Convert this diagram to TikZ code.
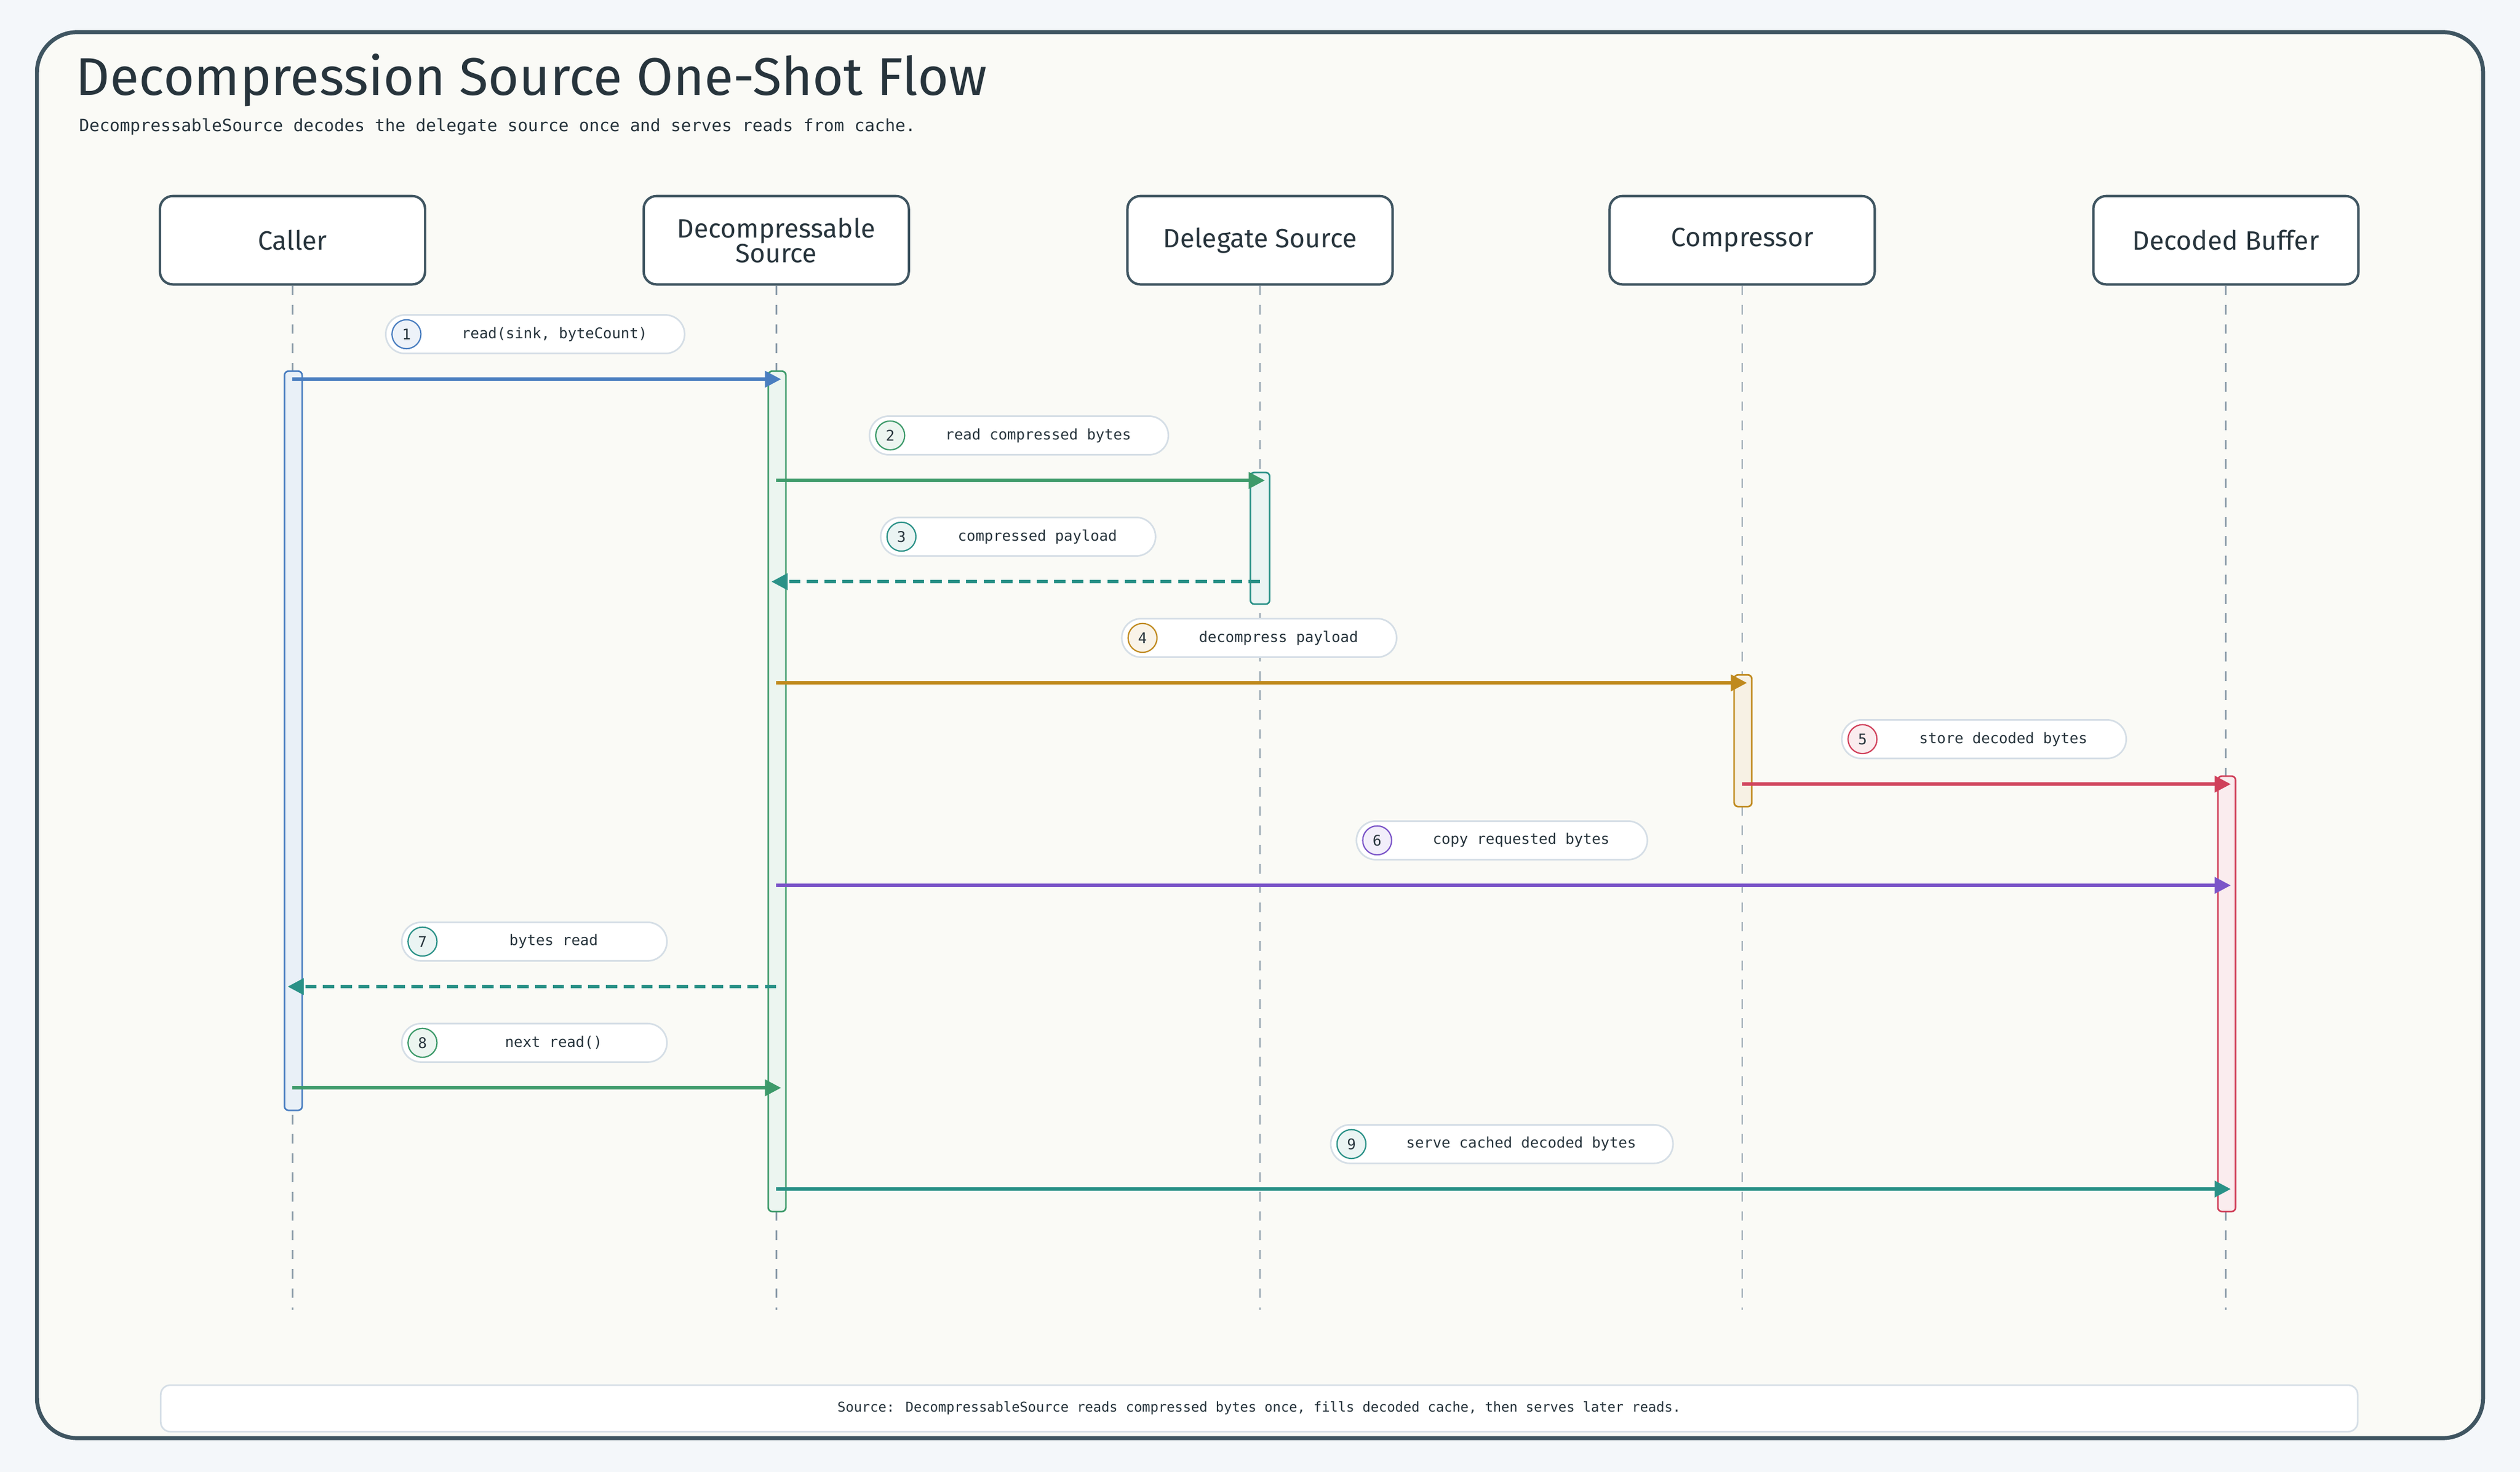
\documentclass[tikz,border=0pt]{standalone}
\usepackage{fontspec}
\setmainfont{Fira Sans}
\newfontfamily\monofont{DejaVu Sans Mono}
\usetikzlibrary{arrows.meta,positioning}
\definecolor{ink}{HTML}{27343C}
\definecolor{frame}{HTML}{3F5561}
\definecolor{life}{HTML}{8A9BA8}
\definecolor{pill}{HTML}{D5DEE6}
\definecolor{cBlue}{HTML}{4A7EC0}
\definecolor{cGreen}{HTML}{3D9A6A}
\definecolor{cTeal}{HTML}{2A9187}
\definecolor{cOrange}{HTML}{C08A1E}
\definecolor{cRed}{HTML}{D0405A}
\definecolor{cPurple}{HTML}{7B55C8}
\definecolor{page}{HTML}{F4F7FA}
\definecolor{paper}{HTML}{FAFAF6}
\tikzset{
    party/.style={draw=frame, line width=1.5mm, rounded corners=8mm, fill=white,
        minimum width=165mm, minimum height=55mm, align=center, text=ink,
        font=\fontsize{47}{40}\selectfont},
    lifeline/.style={draw=life, line width=1mm, dash pattern=on 6mm off 6mm},
    act/.style n args={2}{draw=#1, fill=#2, line width=1mm, rounded corners=2.5mm},
    msg/.style={line width=2mm, -{Triangle[length=10mm,width=10mm]}, draw=#1, shorten >=-3mm},
    reply/.style={msg=#1, dash pattern=on 7mm off 4mm},
    pill/.style={draw=pill, line width=1mm, fill=white, rounded corners=12mm,
        minimum height=24mm, text=ink, font=\monofont\fontsize{26}{26}\selectfont},
    step/.style={circle, draw=#1, fill=#1!10, line width=0.8mm, minimum size=18mm,
        inner sep=0pt, text=ink, font=\monofont\fontsize{26}{26}\selectfont}
}
\begin{document}
\begin{tikzpicture}[x=1mm,y=-1mm]
    \useasboundingbox[fill=page] (0,0) rectangle (1568,916);
    \draw[frame, line width=2.5mm, rounded corners=25mm, fill=paper]
        (23,20) rectangle (1545,895);
    \node[anchor=west, text=ink, font=\fontsize{94}{94}\selectfont] (title) at (46,50)
        {Decompression Source One-Shot Flow};
    \node[anchor=west, text=ink, font=\monofont\fontsize{30}{30}\selectfont] (sub) at (48,79)
        {DecompressableSource decodes the delegate source once and serves reads from cache.};
    % participants
    \node[party] (p1) at (182,149.5) {Caller};
    \node[party] (p2) at (483,149.5) {Decompressable\\Source};
    \node[party] (p3) at (784,149.5) {Delegate Source};
    \node[party] (p4) at (1084,149.5) {Compressor};
    \node[party] (p5) at (1385,149.5) {Decoded Buffer};
    \foreach \p in {p1,p2,p3,p4,p5}
        \draw[lifeline] (\p.south) -- (\p.south |- 0,815);
    % activations
    \draw[act={cBlue}{cBlue!12}] (177,231) rectangle (188,691);
    \draw[act={cGreen}{cGreen!10}] (478,231) rectangle (489,754);
    \draw[act={cTeal}{cTeal!10}] (778,294) rectangle (790,376);
    \draw[act={cOrange}{cOrange!12}] (1079,420) rectangle (1090,502);
    \draw[act={cRed}{cRed!10}] (1380,483) rectangle (1391,754);
    % messages
    \draw[msg=cBlue] (p1.south |- 0,236) -- (p2.south |- 0,236);
    \draw[msg=cGreen] (p2.south |- 0,299) -- (p3.south |- 0,299);
    \draw[reply=cTeal] (p3.south |- 0,362) -- (p2.south |- 0,362);
    \draw[msg=cOrange] (p2.south |- 0,425) -- (p4.south |- 0,425);
    \draw[msg=cRed] (p4.south |- 0,488) -- (p5.south |- 0,488);
    \draw[msg=cPurple] (p2.south |- 0,551) -- (p5.south |- 0,551);
    \draw[reply=cTeal] (p2.south |- 0,614) -- (p1.south |- 0,614);
    \draw[msg=cGreen] (p1.south |- 0,677) -- (p2.south |- 0,677);
    \draw[msg=cTeal] (p2.south |- 0,740) -- (p5.south |- 0,740);
    % step labels
    \foreach \n/\xa/\xb/\y/\c/\t in {
        1/240/426/208/cBlue/{read(sink, byteCount)},
        2/541/727/271/cGreen/{read compressed bytes},
        3/548/719/334/cTeal/{compressed payload},
        4/698/869/397/cOrange/{decompress payload},
        5/1146/1323/460/cRed/{store decoded bytes},
        6/844/1025/523/cPurple/{copy requested bytes},
        7/250/415/586/cTeal/{bytes read},
        8/250/415/649/cGreen/{next read()},
        9/828/1041/712/cTeal/{serve cached decoded bytes}} {
        \pgfmathsetmacro\w{\xb-\xa}
        \node[pill, minimum width=\w mm] (l\n) at ({(\xa+\xb)/2},\y) {};
        \node[step=\c, right=4mm of l\n.west] (s\n) {\n};
        \node[text=ink, font=\monofont\fontsize{26}{26}\selectfont] (t\n)
            at ({(\xa+\xb)/2+12},\y) {\t};
    }
    % footer
    \node[draw=pill, line width=1mm, fill=white, rounded corners=6mm, minimum width=1367mm,
        minimum height=29mm, text=ink, font=\monofont\fontsize{24}{24}\selectfont] (foot) at (783.5,876.5)
        {Source: DecompressableSource reads compressed bytes once, fills decoded cache, then serves later reads.};
\end{tikzpicture}
\end{document}
